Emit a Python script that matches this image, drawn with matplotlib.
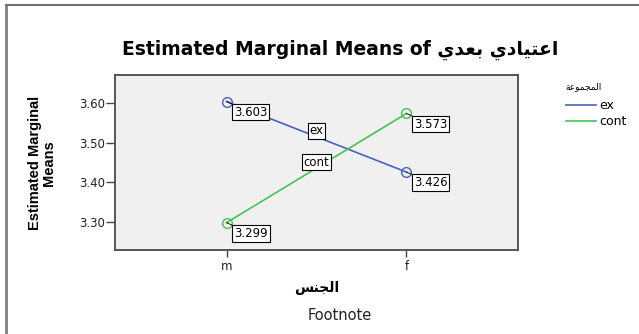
import matplotlib
matplotlib.use("Agg")
import matplotlib.pyplot as plt
from matplotlib.lines import Line2D

# data
genders = ["m", "f"]
ex_means = [3.603, 3.426]
cont_means = [3.299, 3.573]
group_names = ["ex", "cont"]
group_colors = ["#4862c0", "#45c452"]

title_en = "Estimated Marginal Means of "
title_ar = "اعتيادي بعدي"
xlabel_ar = "الجنس"
legend_title_ar = "المجموعة"
yticks = [3.30, 3.40, 3.50, 3.60]

# minimal arabic shaping (isolated, final, initial, medial) for letters used here
FORMS = {
    "ا": ("\uFE8D", "\uFE8E", None, None),
    "ب": ("\uFE8F", "\uFE90", "\uFE91", "\uFE92"),
    "ة": ("\uFE93", "\uFE94", None, None),
    "ت": ("\uFE95", "\uFE96", "\uFE97", "\uFE98"),
    "ج": ("\uFE9D", "\uFE9E", "\uFE9F", "\uFEA0"),
    "د": ("\uFEA9", "\uFEAA", None, None),
    "س": ("\uFEB1", "\uFEB2", "\uFEB3", "\uFEB4"),
    "ع": ("\uFEC9", "\uFECA", "\uFECB", "\uFECC"),
    "ل": ("\uFEDD", "\uFEDE", "\uFEDF", "\uFEE0"),
    "م": ("\uFEE1", "\uFEE2", "\uFEE3", "\uFEE4"),
    "ن": ("\uFEE5", "\uFEE6", "\uFEE7", "\uFEE8"),
    "و": ("\uFEED", "\uFEEE", None, None),
    "ي": ("\uFEF1", "\uFEF2", "\uFEF3", "\uFEF4"),
}


def shape_ar(s):
    out = []
    for i, c in enumerate(s):
        if c not in FORMS:
            out.append(c)
            continue
        prev = s[i - 1] if i > 0 else ""
        nxt = s[i + 1] if i + 1 < len(s) else ""
        join_prev = prev in FORMS and FORMS[prev][2] is not None
        join_next = FORMS[c][2] is not None and nxt in FORMS
        iso, fin, ini, med = FORMS[c]
        if join_prev and join_next:
            out.append(med)
        elif join_prev:
            out.append(fin)
        elif join_next:
            out.append(ini)
        else:
            out.append(iso)
    return "".join(out)[::-1]


plt.rcParams["font.family"] = ["DejaVu Sans"]

W, H = 639, 334
fig = plt.figure(figsize=(W / 100, H / 100), dpi=100)

# outer frame (top and left edges visible)
fig.add_artist(Line2D([6 / W, 6 / W], [0, 1 - 5 / H], transform=fig.transFigure,
                      color="#808080", lw=2))
fig.add_artist(Line2D([6 / W, 1], [1 - 5 / H, 1 - 5 / H], transform=fig.transFigure,
                      color="#707070", lw=1.5))

ax = fig.add_axes([115 / W, 1 - 250 / H, (518 - 115) / W, (250 - 75) / H])
ax.set_facecolor("#f0f0f0")

xs = list(range(1, len(genders) + 1))
series = [ex_means, cont_means]
for name, vals, col in zip(group_names, series, group_colors):
    ax.plot(xs, vals, color=col, lw=1.2, label=name, zorder=2)
    ax.plot(xs, vals, "o", mfc="none", mec=col, ms=7, mew=1.0, zorder=3)
    for x, v in zip(xs, vals):
        ax.annotate("%.3f" % v, (x, v), xytext=(5.5, -3.0), textcoords="offset points",
                    ha="left", va="top", fontsize=8.5,
                    bbox=dict(boxstyle="square,pad=0.15", fc="white", ec="black", lw=0.8),
                    arrowprops=dict(arrowstyle="-", color="black", lw=0.6,
                                    shrinkA=0, shrinkB=0), zorder=4)
    mid = sum(vals) / len(vals)
    ax.annotate(name, (sum(xs) / len(xs), mid), xytext=(0, 4.3), textcoords="offset points",
                ha="center", va="center", fontsize=8.5,
                bbox=dict(boxstyle="square,pad=0.12", fc="white", ec="black", lw=0.8), zorder=4)

ax.set_xlim(0.38, 2.62)
ax.set_ylim(3.2305, 3.6695)
ax.set_xticks(xs)
ax.set_xticklabels(genders, fontsize=8.5, color="#222222")
ax.set_yticks(yticks)
ax.set_yticklabels(["%.2f" % t for t in yticks], fontsize=8.5, color="#222222")
ax.tick_params(axis="y", direction="out", length=6.5, width=1, color="#444444", pad=0.5)
ax.tick_params(axis="x", direction="out", length=5, width=1, color="#444444", pad=2)
for sp in ax.spines.values():
    sp.set_color("#555555")
    sp.set_linewidth(1.4)

fig.text(340 / W, 1 - 50 / H, title_en + shape_ar(title_ar), ha="center", va="center",
         fontsize=13.5, fontweight="bold")

fig.text(42 / W, 1 - 163 / H, "Estimated Marginal\nMeans", rotation=90, ha="center",
         va="center", multialignment="center", fontsize=10.5, fontweight="bold",
         family=["Liberation Sans", "DejaVu Sans"], linespacing=0.95)

fig.text(317 / W, 1 - 288 / H, shape_ar(xlabel_ar), ha="center", va="center",
         fontsize=10, fontweight="bold")
fig.text(340 / W, 1 - 315 / H, "Footnote", ha="center", va="center", fontsize=10.5,
         color="#222222")

fig.text(583 / W, 1 - 87 / H, shape_ar(legend_title_ar), ha="center", va="center",
         fontsize=6.5)
leg = ax.legend(loc="upper left", bbox_to_anchor=(566 / W, 1 - 99 / H),
                bbox_transform=fig.transFigure, frameon=False, fontsize=9,
                handlelength=2.4, handletextpad=0.3, labelspacing=0.25,
                borderpad=0, borderaxespad=0)
for line in leg.get_lines():
    line.set_linewidth(1.2)

fig.savefig("out.png", dpi=100)
